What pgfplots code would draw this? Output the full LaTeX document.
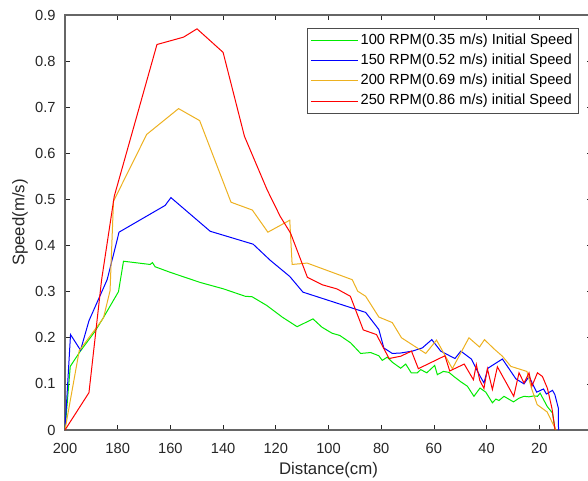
\documentclass[border=0pt]{standalone}
\usepackage{pgfplots}
\pgfplotsset{compat=1.18}
\usepackage{fontspec}
\setmainfont{Liberation Sans}
\definecolor{mgreen}{RGB}{0,235,0}
\definecolor{mblue}{RGB}{0,0,255}
\definecolor{morange}{RGB}{237,177,32}
\definecolor{mred}{RGB}{255,0,0}
\definecolor{axgray}{RGB}{38,38,38}
\begin{document}
\begin{tikzpicture}
\begin{axis}[
  at={(0,0)}, anchor=south west,
  scale only axis, width=395.25pt, height=311.25pt,
  x dir=reverse,
  xmin=0, xmax=200, ymin=0, ymax=0.9,
  xtick={0,20,...,200},
  ytick={0,0.1,0.2,0.3,0.4,0.5,0.6,0.7,0.8,0.9},
  yticklabels={0,0.1,0.2,0.3,0.4,0.5,0.6,0.7,0.8,0.9},
  /pgf/number format/assume math mode=true,
  tick label style={font=\fontsize{11}{13}\selectfont, text=axgray},
  yticklabel style={xshift=-3.5pt},
  xticklabel style={yshift=-6.5pt},
  major tick length=3.75pt,
  tick align=inside,
  xtick pos=both, ytick pos=both,
  tick style={axgray, line width=0.5pt},
  axis line style={black!60, line width=0.9pt},
  xlabel={Distance(cm)},
  ylabel={Speed(m/s)},
  label style={font=\fontsize{12.6}{14}\selectfont, text=axgray},
  xlabel style={at={(axis description cs:0.5,-0.0964)}, anchor=center},
  ylabel style={at={(axis description cs:-0.0854,0.5)}, anchor=center},
  legend style={at={(axis description cs:0.974,0.968)}, anchor=north east,
    draw=black!70, line width=0.5pt, fill=white,
    font=\fontsize{11}{13}\selectfont,
    inner xsep=2pt, inner ysep=2.6pt, row sep=2.7pt,
    nodes={inner xsep=2pt, inner ysep=1pt, text height=8pt, text depth=2.5pt, anchor=west}},
  legend cell align=left,
  legend image code/.code={\draw[#1, line width=0.75pt] (0pt,0pt) -- (35pt,0pt);},
  every axis plot/.append style={line width=0.75pt},
]
\addplot[mgreen] coordinates {
(200,0) (198,0.138) (194.3,0.170) (188.6,0.214) (185.4,0.244) (179.7,0.300)
(177.8,0.366) (167.7,0.359) (166.8,0.363) (165.8,0.354) (160.1,0.342) (148.7,0.320)
(139.8,0.306) (131.6,0.290) (129,0.289) (123.4,0.270) (117.6,0.245) (111.9,0.224)
(105.9,0.241) (102.5,0.223) (98.7,0.210) (95.7,0.205) (91.6,0.189) (87.8,0.166)
(84.0,0.168) (80.9,0.161) (79.6,0.151) (77.7,0.158) (75.8,0.147) (72.6,0.134)
(70.7,0.143) (68.6,0.124) (66.3,0.124) (65.0,0.131) (62.7,0.124) (59.7,0.140)
(58.7,0.120) (56.4,0.127) (54.3,0.125) (52.4,0.116) (49.9,0.105) (47.3,0.095)
(44.8,0.073) (42.5,0.091) (40.3,0.082) (37.8,0.059) (36.5,0.067) (35.3,0.064)
(33.4,0.073) (29.8,0.061) (27.7,0.069) (25.8,0.073) (23.9,0.072) (22,0.074)
(20.7,0.073) (19.7,0.080) (17,0.051) (15,0.037) (14,0)
};
\addlegendentry{100 RPM(0.35 m/s) Initial Speed}
\addplot[mblue] coordinates {
(200,0) (197.9,0.207) (194.1,0.173) (190.9,0.237) (184,0.326) (180.3,0.41)
(179.5,0.429) (162,0.487) (159.8,0.504) (144.9,0.431) (128.6,0.403) (122.1,0.368)
(114.7,0.333) (109.7,0.299) (85.9,0.255) (80.9,0.218) (79,0.178) (75.8,0.166)
(72.6,0.167) (68.2,0.171) (64.4,0.178) (60.8,0.196) (57.4,0.171) (52,0.155)
(49.8,0.171) (45.8,0.154) (42.6,0.118) (41,0.102) (39.5,0.134) (34,0.154)
(28.9,0.111) (25.8,0.100) (23.9,0.116) (21,0.082) (18.4,0.089) (17.3,0.078)
(15,0.086) (14.1,0.077) (12.8,0.048) (12.7,0)
};
\addlegendentry{150 RPM(0.52 m/s) initial Speed}
\addplot[morange] coordinates {
(200,0) (194.6,0.172) (188.6,0.218) (185.4,0.243) (182.9,0.302) (181.6,0.496)
(169,0.641) (156.9,0.697) (148.9,0.671) (137,0.494) (128.9,0.477) (123,0.429)
(114.7,0.455) (113.8,0.359) (108.1,0.362) (91,0.326) (88.9,0.301) (85.9,0.290)
(80.9,0.245) (75.8,0.233) (72.3,0.200) (63.1,0.166) (59,0.195) (53,0.133)
(46.7,0.200) (42.7,0.180) (40.8,0.196) (37.2,0.176) (34,0.160) (30.8,0.138)
(24.7,0.127) (23,0.091) (20.8,0.055) (17,0.039) (13.7,0)
};
\addlegendentry{200 RPM(0.69 m/s) initial Speed}
\addplot[mred] coordinates {
(200,0) (190.9,0.081) (186.1,0.326) (181.3,0.507) (165.1,0.836) (155,0.852)
(149.9,0.870) (140,0.819) (131.9,0.637) (123.3,0.521) (118.3,0.463) (114.4,0.427)
(108,0.331) (102.4,0.315) (96.8,0.306) (91.7,0.290) (86.8,0.217) (81.8,0.207)
(77,0.155) (72.6,0.160) (68.5,0.171) (65.9,0.133) (55.8,0.161) (54,0.128)
(48.5,0.143) (45,0.109) (43.9,0.142) (42.6,0.108) (41,0.090) (39.7,0.133)
(37.8,0.088) (35.9,0.137) (29.7,0.073) (27.7,0.124) (25.8,0.102) (23.9,0.124)
(22.8,0.095) (20.7,0.124) (18.8,0.116) (16.9,0.090) (15.2,0.047) (14,0)
};
\addlegendentry{250 RPM(0.86 m/s) initial Speed}
\end{axis}
\pgfresetboundingbox
\useasboundingbox (-48.75pt,-38.25pt) rectangle (392.25pt,322.5pt);
\end{tikzpicture}
\end{document}
